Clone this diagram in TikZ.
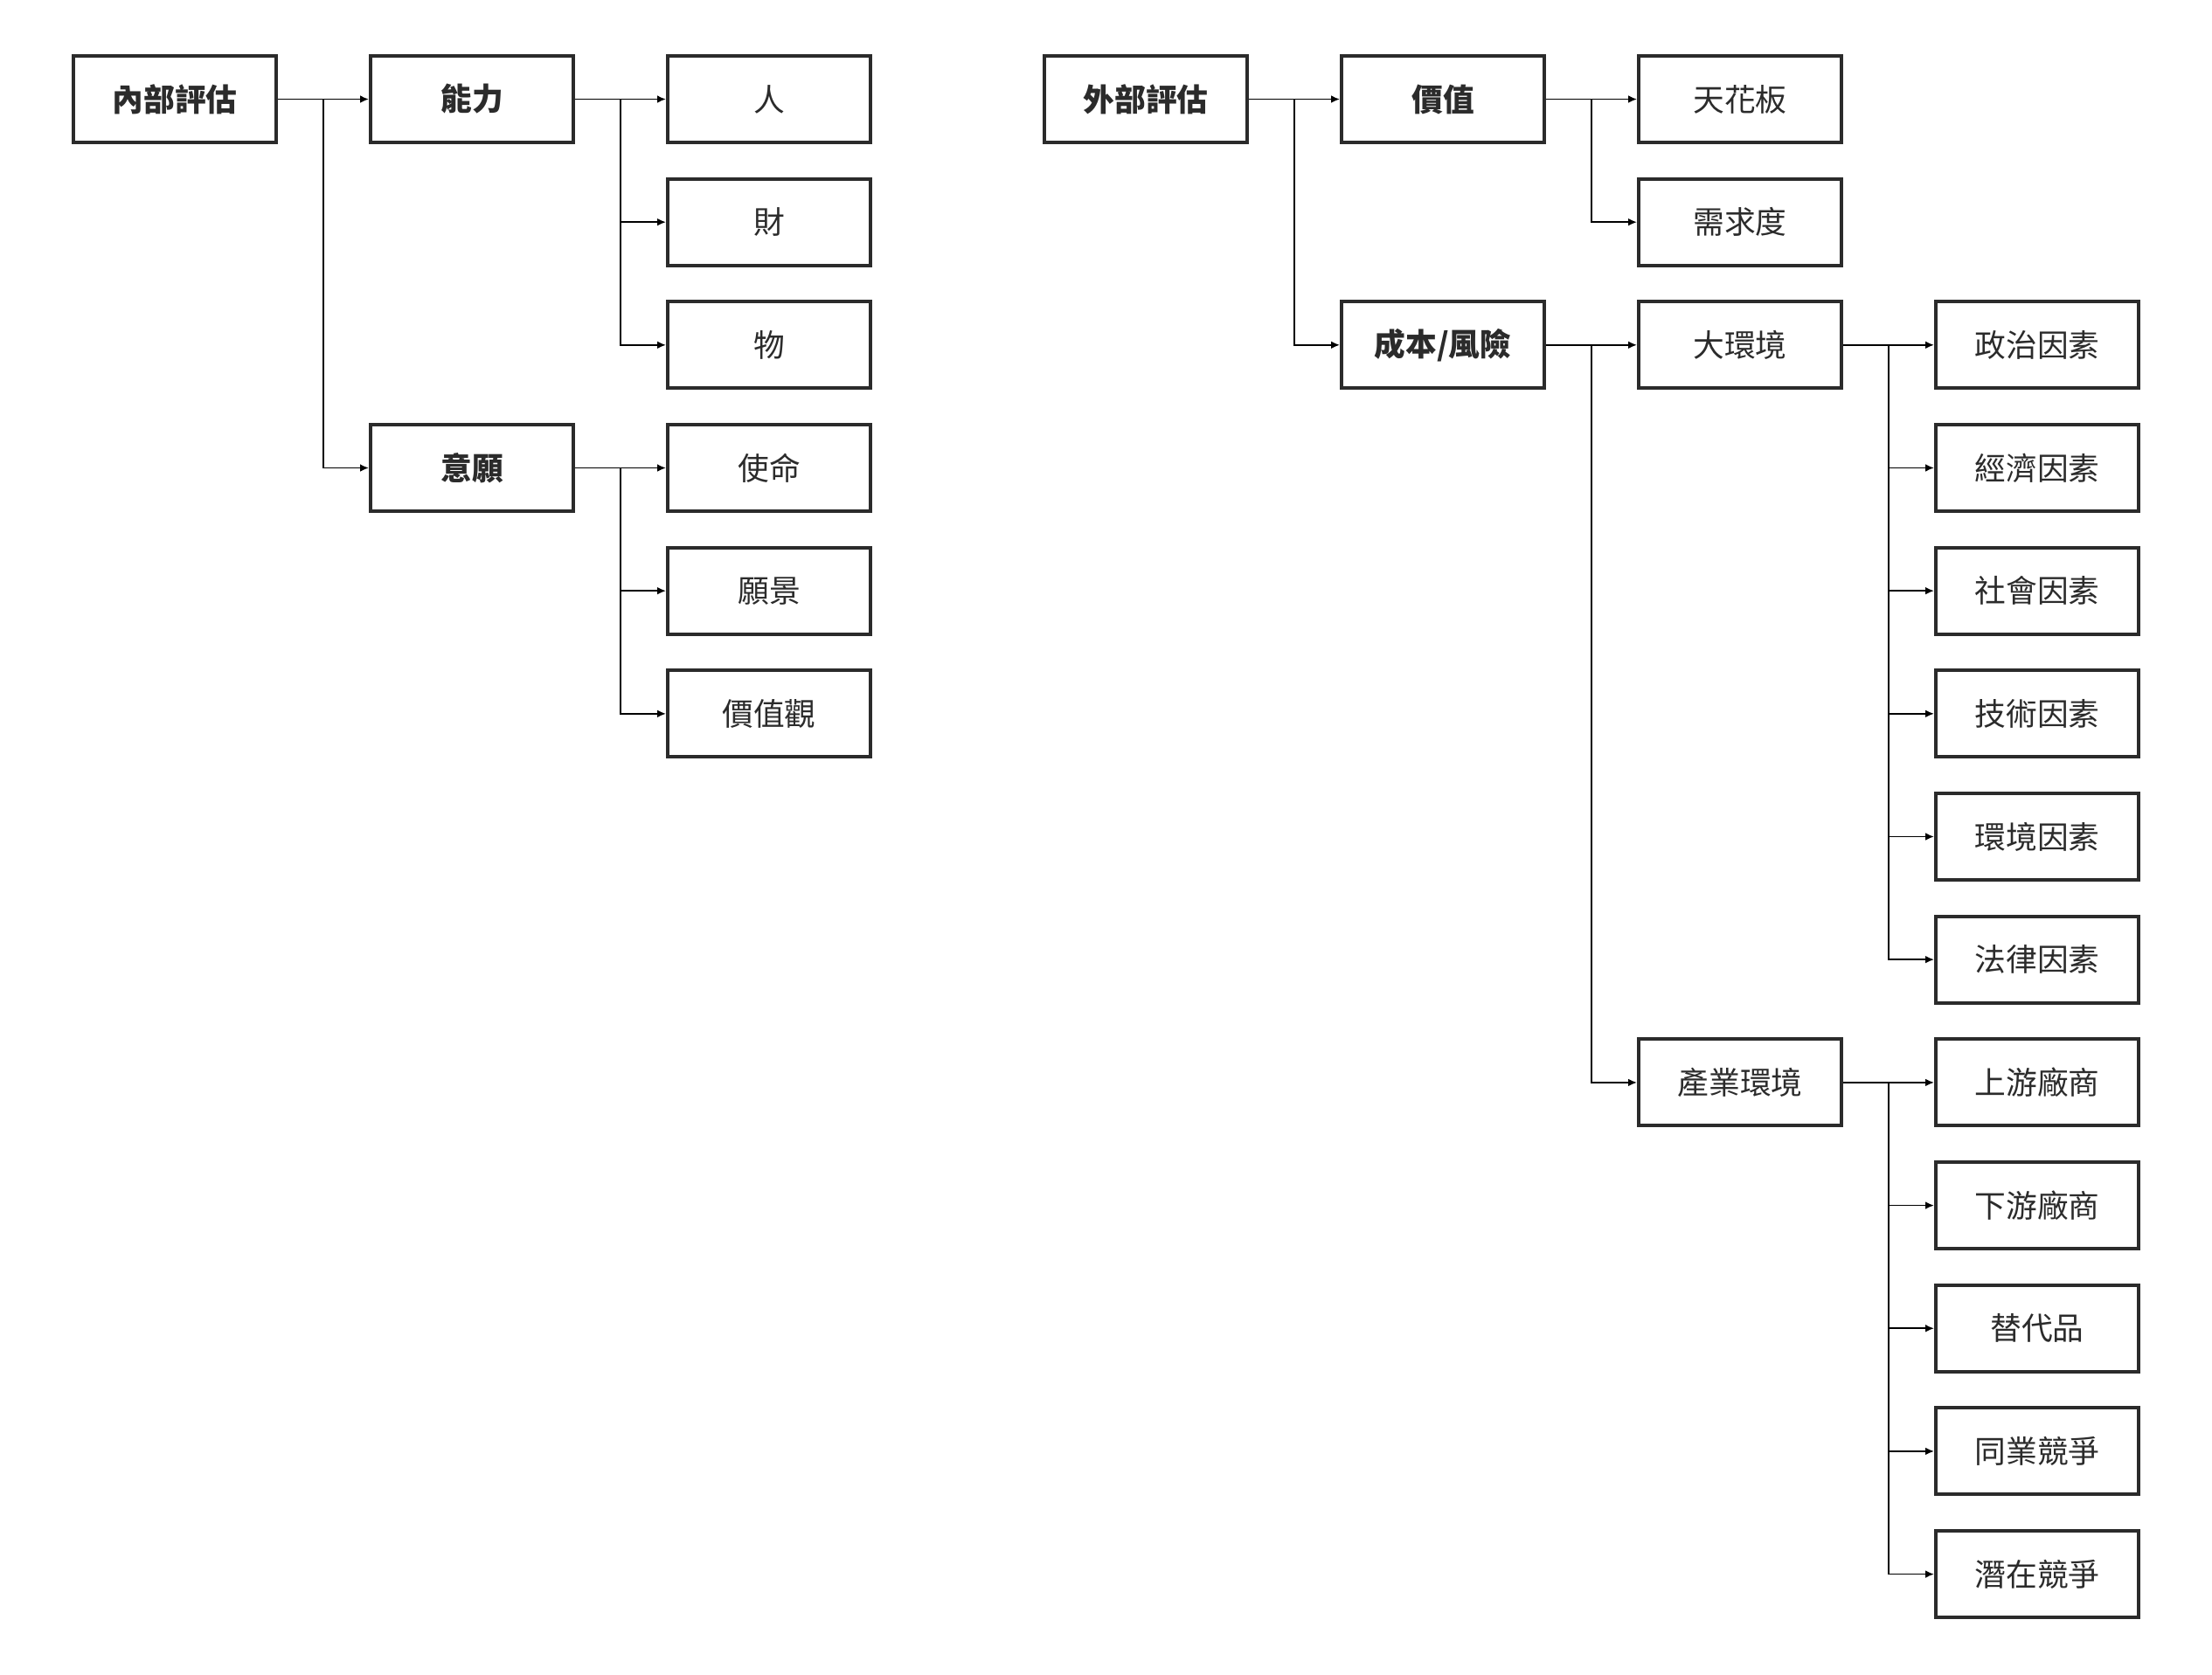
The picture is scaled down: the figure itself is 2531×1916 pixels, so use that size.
\documentclass[tikz,border=0pt]{standalone}
\usepackage{fontspec}
\setmainfont{Noto Sans CJK TC}
\usetikzlibrary{arrows.meta,positioning}
\definecolor{boxline}{HTML}{2B2B2B}

\begin{document}
\begin{tikzpicture}[x=0.12mm, y=-0.12mm, >={Latex[length=1.2mm,width=1.05mm]},
  box/.style={draw=boxline, line width=0.48mm, minimum width=27.84mm, minimum height=11.88mm, inner sep=0pt,
    text=boxline, font=\fontsize{12.2pt}{14pt}\selectfont},
  head/.style={box, font=\fontsize{12.2pt}{14pt}\selectfont\bfseries},
  link/.style={->, line width=0.21mm}]
  \useasboundingbox (0,0) rectangle (2531,1916);

  % Internal assessment
  \node[head] (inner) at (200,113.5) {內部評估};
  \node[head, right=12.48mm of inner] (ability) {能力};
  \node[head] (will) at (540,535.5) {意願};
  \foreach \t [count=\i from 0] in {人,財,物} {
    \node[box] (abl\i) at (880,113.5+140.67*\i) {\t};
    \draw[link] (ability.east) -- ++(6.24mm,0) |- (abl\i.west);
  }
  \foreach \t [count=\i from 0] in {使命,願景,價值觀} {
    \node[box] (wil\i) at (880,535.5+140.67*\i) {\t};
    \draw[link] (will.east) -- ++(6.24mm,0) |- (wil\i.west);
  }
  \draw[link] (inner.east) -- ++(6.24mm,0) |- (ability.west);
  \draw[link] (inner.east) -- ++(6.24mm,0) |- (will.west);

  % External assessment
  \node[head] (outer) at (1311,113.5) {外部評估};
  \node[head, right=12.48mm of outer] (value) {價值};
  \node[head] (cost) at (1651,394.8) {成本/風險};
  \node[box, right=12.48mm of value] (ceiling) {天花板};
  \node[box] (demand) at (1991,254.2) {需求度};
  \node[box, right=12.48mm of cost] (macro) {大環境};
  \node[box] (industry) at (1991,1238.9) {產業環境};
  \draw[link] (outer.east) -- ++(6.24mm,0) |- (value.west);
  \draw[link] (outer.east) -- ++(6.24mm,0) |- (cost.west);
  \draw[link] (value.east) -- ++(6.24mm,0) |- (ceiling.west);
  \draw[link] (value.east) -- ++(6.24mm,0) |- (demand.west);
  \draw[link] (cost.east) -- ++(6.24mm,0) |- (macro.west);
  \draw[link] (cost.east) -- ++(6.24mm,0) |- (industry.west);

  % Factors
  \foreach \t [count=\i from 0] in {政治因素,經濟因素,社會因素,技術因素,環境因素,法律因素} {
    \node[box] (mac\i) at (2331,394.8+140.67*\i) {\t};
    \draw[link] (macro.east) -- ++(6.24mm,0) |- (mac\i.west);
  }
  \foreach \t [count=\i from 0] in {上游廠商,下游廠商,替代品,同業競爭,潛在競爭} {
    \node[box] (ind\i) at (2331,1238.9+140.67*\i) {\t};
    \draw[link] (industry.east) -- ++(6.24mm,0) |- (ind\i.west);
  }
\end{tikzpicture}
\end{document}
